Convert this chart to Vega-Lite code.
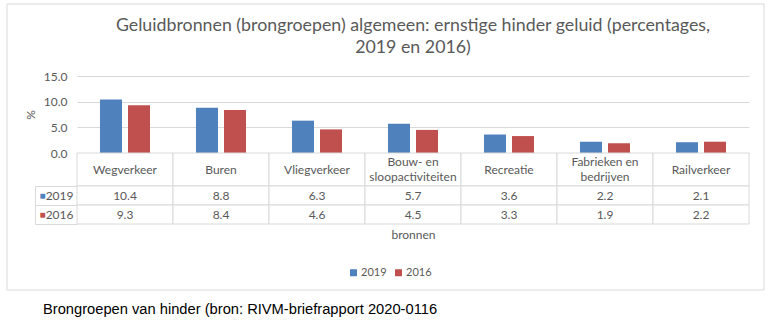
{
  "$schema": "https://vega.github.io/schema/vega-lite/v6.json",
  "padding": {"left": 7, "top": 4, "right": 5, "bottom": 5},
  "config": {
    "view": {"stroke": null},
    "font": "Lato",
    "axis": {"labelColor": "#595959", "titleColor": "#595959"},
    "legend": {"labelColor": "#595959"}
  },
  "datasets": {
    "rows": [
      {"bron": "Wegverkeer", "jaar": "2019", "pct": 10.4},
      {"bron": "Wegverkeer", "jaar": "2016", "pct": 9.3},
      {"bron": "Buren", "jaar": "2019", "pct": 8.8},
      {"bron": "Buren", "jaar": "2016", "pct": 8.4},
      {"bron": "Vliegverkeer", "jaar": "2019", "pct": 6.3},
      {"bron": "Vliegverkeer", "jaar": "2016", "pct": 4.6},
      {"bron": "Bouw- en\nsloopactiviteiten", "jaar": "2019", "pct": 5.7},
      {"bron": "Bouw- en\nsloopactiviteiten", "jaar": "2016", "pct": 4.5},
      {"bron": "Recreatie", "jaar": "2019", "pct": 3.6},
      {"bron": "Recreatie", "jaar": "2016", "pct": 3.3},
      {"bron": "Fabrieken en\nbedrijven", "jaar": "2019", "pct": 2.2},
      {"bron": "Fabrieken en\nbedrijven", "jaar": "2016", "pct": 1.9},
      {"bron": "Railverkeer", "jaar": "2019", "pct": 2.1},
      {"bron": "Railverkeer", "jaar": "2016", "pct": 2.2}
    ],
    "cats": [
      {"bron": "Wegverkeer"},
      {"bron": "Buren"},
      {"bron": "Vliegverkeer"},
      {"bron": "Bouw- en\nsloopactiviteiten"},
      {"bron": "Recreatie"},
      {"bron": "Fabrieken en\nbedrijven"},
      {"bron": "Railverkeer"}
    ]
  },
  "title": {
    "text": "Brongroepen van hinder (bron: RIVM-briefrapport 2020-0116",
    "orient": "bottom",
    "anchor": "start",
    "font": "Liberation Sans",
    "fontSize": 14.7,
    "fontWeight": "normal",
    "color": "#000000",
    "offset": 11,
    "dx": 36
  },
  "bounds": "flush",
  "spacing": 0,
  "vconcat": [
    {
      "width": 672,
      "height": 77,
      "data": {"name": "rows"},
      "title": {
        "text": ["Geluidbronnen (brongroepen) algemeen: ernstige hinder geluid (percentages,", "2019 en 2016)"],
        "fontSize": 17.8,
        "fontWeight": "normal",
        "color": "#595959",
        "anchor": "middle",
        "offset": 13,
        "lineHeight": 22
      },
      "mark": {"type": "bar"},
      "encoding": {
        "x": {"field": "bron", "type": "nominal", "sort": null, "scale": {"paddingInner": 0, "paddingOuter": 0}, "axis": null},
        "xOffset": {"field": "jaar", "type": "nominal", "sort": ["2019", "2016"], "scale": {"paddingInner": 0.214, "paddingOuter": 0.82}},
        "y": {
          "field": "pct", "type": "quantitative",
          "scale": {"domain": [0, 15]},
          "axis": {"values": [0, 5, 10, 15], "format": ".1f", "title": "%", "grid": true, "gridColor": "#d9d9d9", "domain": false, "ticks": false, "labelPadding": 10, "labelFontSize": 12, "titleFontSize": 12, "titleFontWeight": "normal", "titlePadding": 6}
        },
        "color": {
          "field": "jaar", "type": "nominal",
          "scale": {"domain": ["2019", "2016"], "range": ["#4F81BD", "#C0504D"]},
          "legend": {"title": null, "orient": "none", "legendX": 271, "legendY": 191, "direction": "horizontal", "symbolType": "square", "symbolSize": 49, "symbolStrokeWidth": 0, "labelFontSize": 11, "labelOffset": 2, "columnPadding": 6}
        }
      }
    },
    {
      "width": 672,
      "height": 33,
      "data": {"name": "cats"},
      "encoding": {
        "x": {"field": "bron", "type": "nominal", "sort": null, "scale": {"paddingInner": 0, "paddingOuter": 0}, "axis": null}
      },
      "layer": [
        {"mark": {"type": "rect", "fill": "white", "stroke": "#d9d9d9", "strokeWidth": 1}},
        {
          "transform": [{"filter": "indexof(datum.bron, '\\n') < 0"}],
          "mark": {"type": "text", "fontSize": 12, "color": "#595959"},
          "encoding": {"text": {"field": "bron"}}
        },
        {
          "transform": [{"filter": "indexof(datum.bron, '\\n') >= 0"}],
          "mark": {"type": "text", "lineBreak": "\n", "fontSize": 12, "color": "#595959", "lineHeight": 15, "dy": -7.5},
          "encoding": {"text": {"field": "bron"}}
        }
      ]
    },
    {
      "width": 672,
      "height": 38,
      "data": {"name": "rows"},
      "encoding": {
        "x": {"field": "bron", "type": "nominal", "sort": null, "scale": {"paddingInner": 0, "paddingOuter": 0},
          "axis": {"labels": false, "ticks": false, "domain": false, "title": "bronnen", "titleFontSize": 12, "titleFontWeight": "normal", "titlePadding": 5}}
      },
      "layer": [
        {
          "mark": {"type": "rect", "fill": "white", "stroke": "#d9d9d9", "strokeWidth": 1},
          "encoding": {
            "y": {"field": "jaar", "type": "nominal", "sort": ["2019", "2016"], "scale": {"paddingInner": 0, "paddingOuter": 0},
              "axis": {"orient": "left", "title": null, "domain": false, "ticks": true, "tickBand": "extent", "tickSize": 42, "tickColor": "#d9d9d9", "labelPadding": -38, "labelFontSize": 12}}
          }
        },
        {
          "mark": {"type": "text", "fontSize": 12, "color": "#595959"},
          "encoding": {
            "y": {"field": "jaar", "type": "nominal", "sort": ["2019", "2016"],
              "axis": {"orient": "left", "offset": 42, "title": null, "domain": true, "domainColor": "#d9d9d9", "ticks": false, "labelExpr": "'■'", "labelColor": {"condition": {"test": "datum.value == '2019'", "value": "#4F81BD"}, "value": "#C0504D"}, "labelAlign": "left", "labelPadding": -4, "labelFontSize": 10}},
            "text": {"field": "pct", "type": "quantitative", "format": ".1f"},
            "stroke": {
              "field": "pct", "type": "quantitative",
              "scale": {"range": ["rgba(255,255,255,0)", "rgba(255,255,255,0)"]},
              "legend": {"title": null, "orient": "none", "legendX": -70, "legendY": -72, "direction": "horizontal", "padding": 0, "gradientLength": 757, "gradientThickness": 286, "gradientStrokeColor": "#d9d9d9", "gradientStrokeWidth": 1, "labelExpr": "''", "labelFontSize": 1, "labelOffset": 0, "tickCount": 2}
            }
          }
        }
      ],
      "resolve": {"axis": {"y": "independent"}}
    }
  ]
}
